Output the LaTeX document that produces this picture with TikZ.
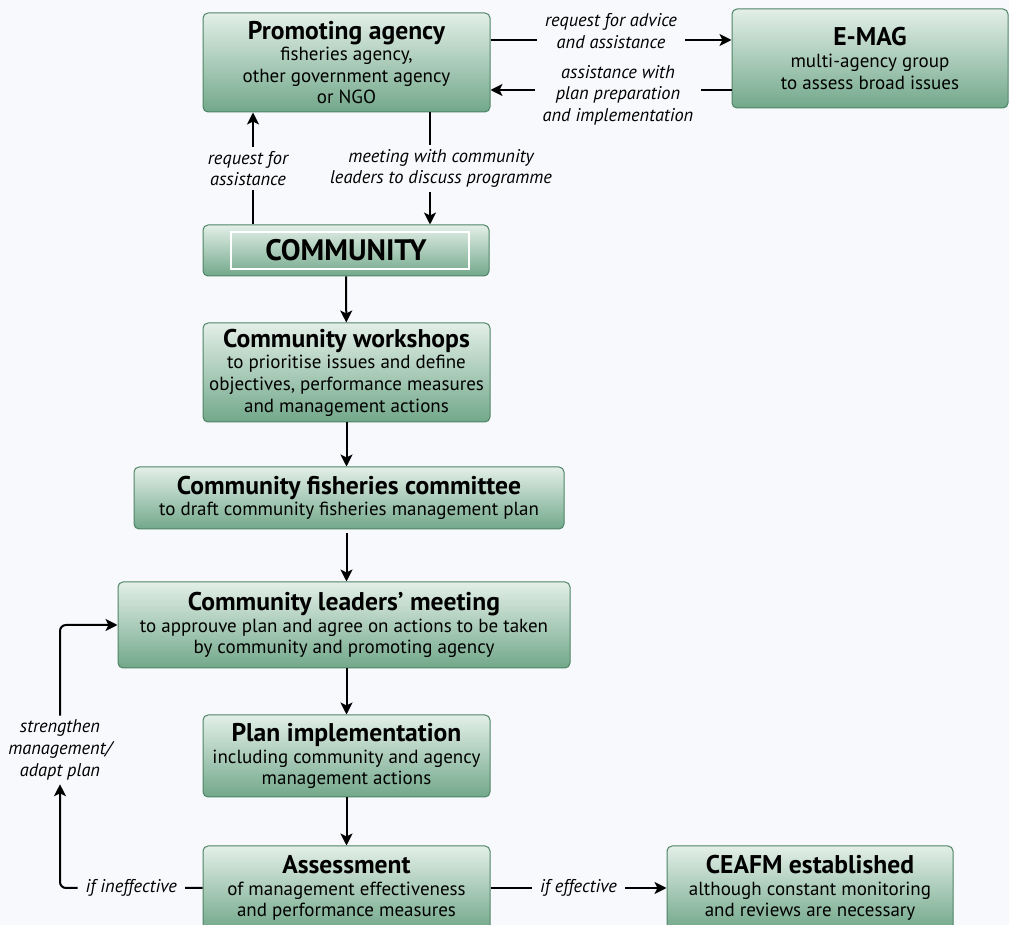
\documentclass[tikz,border=0pt]{standalone}
\usepackage{fontspec}
\setmainfont{PT Sans}
\usepackage{xcolor}
\definecolor{bgpage}{HTML}{F8F9FC}
\definecolor{boxtop}{HTML}{E3EFE8}
\definecolor{boxbottom}{HTML}{72A88A}
\definecolor{boxline}{HTML}{4E8466}
\usepackage{tikz}
\usetikzlibrary{arrows.meta,positioning,calc}

\tikzset{
  stage/.style={rectangle, rounded corners=2.5pt, draw=boxline, line width=0.5pt, top color=boxtop, bottom color=boxbottom, text=black, font=\fontsize{9.5}{10.8}\selectfont, align=center, inner sep=2pt},
  flow/.style={-{Stealth[length=6pt,width=6pt,inset=1.5pt]}, line width=1pt},
  note/.style={fill=bgpage, font=\fontsize{9.2}{10.8}\selectfont\itshape, align=center, inner xsep=4pt, inner ysep=2pt},
}
\newcommand{\stagetitle}[1]{{\fontsize{12.8}{10.8}\selectfont\bfseries #1}}

\begin{document}
\begin{tikzpicture}[x=0.5pt, y=-0.5pt]
        % page
        \fill[bgpage] (0,0) rectangle (1009,925);
        \clip (0,0) rectangle (1009,925);
        % stages
        \node[stage, minimum width=143.5pt, minimum height=49.5pt] (agency) at (346.5,62.5) {\stagetitle{Promoting agency}\\fisheries agency,\\other government agency\\or NGO};
        \node[stage, minimum width=138pt, minimum height=49.5pt] (emag) at (870,58.5) {\stagetitle{E-MAG}\\multi-agency group\\to assess broad issues};
        \node[stage, minimum width=143pt, minimum height=25.5pt] (community) at (346,250.5) {{\fontsize{14.8}{12}\selectfont\bfseries COMMUNITY}};
        \draw[white, line width=1pt] ($(community.south west)+(28,-7)$) rectangle ($(community.north east)+(-21,8)$);
        \node[stage, minimum width=143.5pt, minimum height=49.5pt] (workshops) at (346.5,372.5) {\stagetitle{Community workshops}\\to prioritise issues and define\\objectives, performance measures\\and management actions};
        \node[stage, minimum width=215pt, minimum height=31pt] (committee) at (349,498) {\stagetitle{Community fisheries committee}\\to draft community fisheries management plan};
        \node[stage, minimum width=226pt, minimum height=43pt] (leaders) at (344,625) {\stagetitle{Community leaders’ meeting}\\to approuve plan and agree on actions to be taken\\by community and promoting agency};
        \node[stage, minimum width=143.5pt, minimum height=41pt] (plan) at (346.5,756) {\stagetitle{Plan implementation}\\including community and agency\\management actions};
        \node[stage, minimum width=143.5pt, minimum height=42pt] (assess) at (346.5,888) {\stagetitle{Assessment}\\of management effectiveness\\and performance measures};
        \node[stage, minimum width=143pt, minimum height=42pt] (ceafm) at (810,888) {\stagetitle{CEAFM established}\\although constant monitoring\\and reviews are necessary};
        \node[note] (adapt) at (60,750) {strengthen\\management/\\adapt plan};
        % connectors
        \draw[flow] ($(agency.east)+(0,-22.5)$) -- node[note, yshift=4.5pt] {request for advice\\and assistance} ($(emag.west)+(0,-18.5)$);
        \draw[flow] ($(emag.west)+(0,31.5)$) -- node[note, xshift=3.5pt, yshift=-2.5pt] {assistance with\\plan preparation\\and implementation} ($(agency.east)+(0,27.5)$);
        \draw[flow] ($(community.north)+(-93,0)$) -- node[note, xshift=-2.5pt] {request for\\assistance} ($(agency.south)+(-93.5,0)$);
        \draw[flow] ($(agency.south)+(83.5,0)$) -- node[note, xshift=5.5pt] {meeting with community\\leaders to discuss programme} ($(community.north)+(84,0)$);
        \draw[flow] (community) -- (workshops);
        \draw[flow] (workshops.south) -- (workshops.south |- committee.north);
        \draw[flow] ($(workshops.south |- committee.south)+(0,4)$) -- (workshops.south |- leaders.north);
        \draw[flow] (workshops.south |- leaders.south) -- (plan.north);
        \draw[flow] (plan) -- (assess);
        \draw[flow] (assess.east) -- node[note] {if effective} (ceafm.west);
        \draw[flow, rounded corners=3pt] (assess.west) -| node[note, pos=0.25] {if ineffective} (adapt.south);
        \draw[flow, rounded corners=3pt] (adapt.north) |- (leaders.west);
      \end{tikzpicture}
\end{document}
